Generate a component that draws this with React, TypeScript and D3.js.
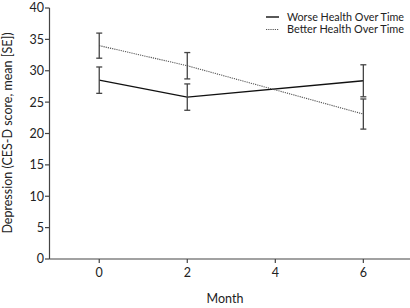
import React from "react";
import * as d3 from "d3";

const months = [0, 2, 6];
const worseMean = [28.5, 25.8, 28.4];
const worseSE = [2.1, 2.1, 2.55];
const betterMean = [34.0, 30.8, 23.1];
const betterSE = [2.0, 2.1, 2.4];
const xTicks = [0, 2, 4, 6];
const yTicks = [0, 5, 10, 15, 20, 25, 30, 35, 40];
const legendLabels = ["Worse Health Over Time", "Better Health Over Time"];

const W = 410, H = 308;
const font = "Lato, 'Noto Sans', sans-serif";

export default function App() {
  const x = d3.scaleLinear().domain([-1.13, 7.06]).range([49.5, 410]);
  const y = d3.scaleLinear().domain([0, 40]).range([259, 8]);
  const line = d3.line<[number, number]>().x(d => x(d[0])).y(d => y(d[1]));
  const series = [
    { mean: worseMean, se: worseSE, stroke: "#111", width: 1.4, dash: "none" },
    { mean: betterMean, se: betterSE, stroke: "#555", width: 1.1, dash: "1.2,1" },
  ];
  const axisColor = "#444";
  return (
    <svg width={W} height={H} style={{ position: "absolute", left: 0, top: 0 }} fontFamily={font}>
      <line x1={49.5} x2={49.5} y1={y(40)} y2={y(0)} stroke={axisColor} strokeWidth={1.2} />
      {yTicks.map(t => (
        <g key={t}>
          <line x1={45} x2={49.5} y1={y(t)} y2={y(t)} stroke={axisColor} strokeWidth={1.2} />
          <text x={44} y={y(t)} dy="0.35em" textAnchor="end" fontSize={12.5} fill="#222">{t}</text>
        </g>
      ))}
      <line x1={49.5} x2={410} y1={y(0)} y2={y(0)} stroke={axisColor} strokeWidth={1.2} />
      {xTicks.map(t => (
        <g key={t}>
          <line x1={x(t)} x2={x(t)} y1={y(0)} y2={y(0) + 4} stroke={axisColor} strokeWidth={1.2} />
          <text x={x(t)} y={y(0) + 18} textAnchor="middle" fontSize={12.5} fill="#222">{t}</text>
        </g>
      ))}
      <text x={225} y={303} textAnchor="middle" fontSize={12.5} fill="#222">Month</text>
      <text transform={`translate(12,${133}) rotate(-90)`} textAnchor="middle" fontSize={12.5} fill="#222">
        Depression (CES-D score, mean [SE])
      </text>
      {series.map((s, i) => (
        <g key={i}>
          <path
            d={line(months.map((m, j) => [m, s.mean[j]] as [number, number])) || ""}
            fill="none"
            stroke={s.stroke}
            strokeWidth={s.width}
            strokeDasharray={s.dash}
          />
          {months.map((m, j) => (
            <g key={j} stroke="#444" strokeWidth={1.3}>
              <line x1={x(m)} x2={x(m)} y1={y(s.mean[j] + s.se[j])} y2={y(s.mean[j] - s.se[j])} />
              <line x1={x(m) - 3} x2={x(m) + 3} y1={y(s.mean[j] + s.se[j])} y2={y(s.mean[j] + s.se[j])} />
              <line x1={x(m) - 3} x2={x(m) + 3} y1={y(s.mean[j] - s.se[j])} y2={y(s.mean[j] - s.se[j])} />
            </g>
          ))}
        </g>
      ))}
      {series.map((s, i) => (
        <g key={"lg" + i}>
          <line x1={266} x2={279} y1={17 + i * 12.5} y2={17 + i * 12.5} stroke={s.stroke} strokeWidth={s.width} strokeDasharray={s.dash} />
          <text x={287} y={17 + i * 12.5} dy="0.35em" fontSize={10.8} fill="#222" textLength={117} lengthAdjust="spacingAndGlyphs">{legendLabels[i]}</text>
        </g>
      ))}
    </svg>
  );
}
